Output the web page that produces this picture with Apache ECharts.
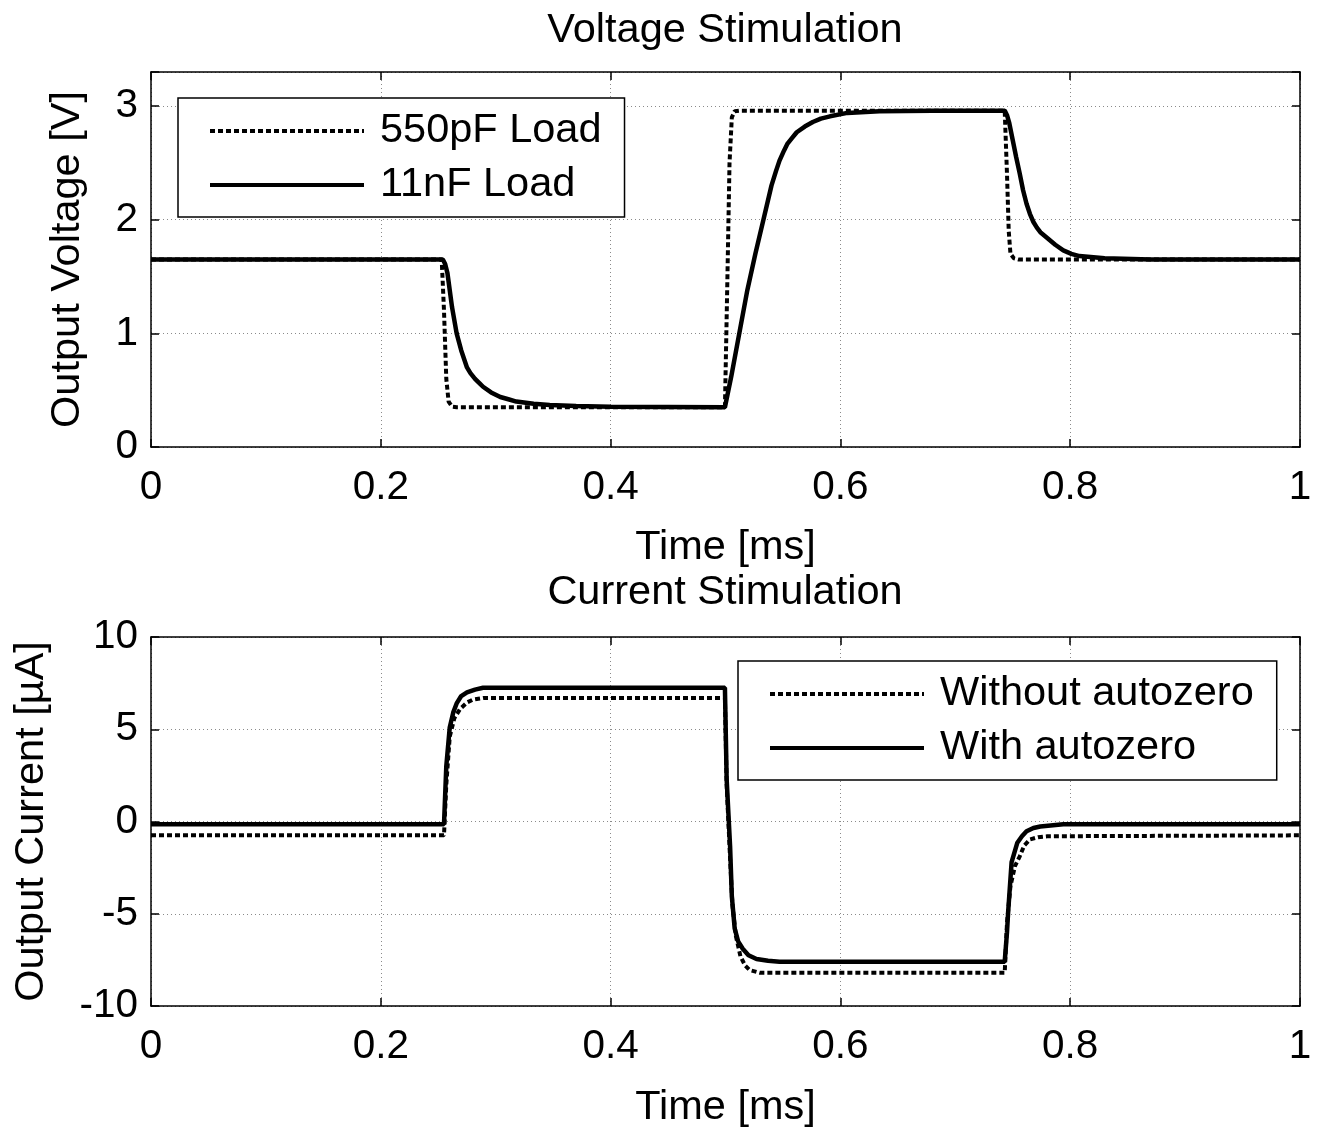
<!DOCTYPE html>
<html>
<head>
<meta charset="utf-8">
<script src="https://cdn.jsdelivr.net/npm/echarts@6/dist/echarts.min.js"></script>
<style>
html,body{margin:0;padding:0;background:#fff;}
#chart{width:1323px;height:1133px;}
</style>
</head>
<body>
<div id="chart"></div>
<script>
// ---- Data ----
const xTicks = [0, 0.2, 0.4, 0.6, 0.8, 1];
const vTicks = [0, 1, 2, 3];
const iTicks = [-10, -5, 0, 5, 10];

const v550pF = [[0,1.65],[0.253,1.65],[0.255,1.2],[0.257,0.6],[0.259,0.4],[0.262,0.355],[0.266,0.35],[0.4995,0.35],[0.5015,1.4],[0.5035,2.5],[0.5055,2.9],[0.508,2.955],[0.512,2.96],[0.743,2.96],[0.745,2.4],[0.7465,1.9],[0.748,1.7],[0.751,1.66],[0.755,1.65],[1,1.65]];
const v11nF = [[0,1.65],[0.254,1.65],[0.256,1.61],[0.258,1.53],[0.262,1.23],[0.266,1.0],[0.270,0.85],[0.275,0.70],[0.278,0.65],[0.282,0.60],[0.286,0.56],[0.289,0.53],[0.296,0.48],[0.304,0.44],[0.311,0.42],[0.318,0.40],[0.333,0.38],[0.347,0.37],[0.37,0.36],[0.40,0.355],[0.4995,0.35],[0.505,0.62],[0.512,1.0],[0.519,1.38],[0.526,1.70],[0.533,2.0],[0.540,2.30],[0.544,2.43],[0.547,2.52],[0.551,2.61],[0.554,2.67],[0.558,2.72],[0.562,2.77],[0.569,2.82],[0.576,2.86],[0.583,2.89],[0.591,2.91],[0.606,2.94],[0.634,2.955],[0.68,2.96],[0.743,2.96],[0.745,2.92],[0.747,2.85],[0.750,2.70],[0.753,2.55],[0.756,2.41],[0.759,2.26],[0.762,2.14],[0.765,2.05],[0.768,1.98],[0.771,1.93],[0.774,1.89],[0.780,1.84],[0.787,1.78],[0.794,1.73],[0.801,1.70],[0.808,1.68],[0.83,1.66],[0.87,1.65],[1,1.65]];

const iWithout = [[0,-0.75],[0.255,-0.75],[0.257,2.0],[0.260,4.6],[0.264,5.6],[0.269,6.1],[0.275,6.45],[0.280,6.6],[0.29,6.7],[0.4995,6.7],[0.501,2.0],[0.504,-2.0],[0.506,-4.5],[0.509,-6.2],[0.513,-7.3],[0.517,-7.8],[0.521,-8.05],[0.53,-8.2],[0.743,-8.2],[0.745,-5.5],[0.748,-3.5],[0.752,-2.4],[0.756,-1.9],[0.760,-1.3],[0.765,-0.97],[0.772,-0.85],[0.78,-0.8],[1,-0.75]];
const iWith = [[0,-0.15],[0.255,-0.15],[0.257,3.0],[0.260,5.1],[0.263,5.9],[0.266,6.4],[0.270,6.8],[0.275,7.0],[0.282,7.15],[0.289,7.25],[0.4995,7.25],[0.501,2.3],[0.504,-1.35],[0.5055,-4.05],[0.508,-5.8],[0.511,-6.5],[0.515,-6.9],[0.520,-7.25],[0.527,-7.45],[0.537,-7.55],[0.547,-7.6],[0.743,-7.6],[0.745,-6.0],[0.746,-4.9],[0.749,-2.2],[0.754,-1.15],[0.758,-0.8],[0.762,-0.53],[0.768,-0.35],[0.774,-0.27],[0.794,-0.15],[1,-0.15]];

// ---- Chart ----
const FONT = '"Liberation Sans", Arial, sans-serif';
const FS = 41.5;   // titles, names, legend
const FT = 40.5;   // tick labels
const chart = echarts.init(document.getElementById('chart'), null, {renderer: 'canvas'});

function fmtX(v){ return xTicks.some(t => Math.abs(t - v) < 1e-9) ? String(+v.toFixed(1)) : ''; }
function fmtV(v){ return vTicks.includes(v) ? String(v) : ''; }
function fmtI(v){ return iTicks.includes(v) ? String(v) : ''; }

const split = {show: true, lineStyle: {color: '#8a8a8a', width: 1, type: [1, 3]}};
const axLine = {show: true, onZero: false, lineStyle: {color: '#000', width: 1.5}};
const tickIn = {show: true, inside: true, length: 8, lineStyle: {color: '#000', width: 1.5}};
const txt = {fontFamily: FONT, fontSize: FS, color: '#000'};
const tickTxt = {fontFamily: FONT, fontSize: FT, color: '#000'};

function xMain(grid, name, gap){
  return {type:'value', gridIndex:grid, min:0, max:1, interval:0.2, position:'bottom',
    name:name, nameLocation:'middle', nameGap:gap, nameTextStyle:txt,
    axisLine:axLine, axisTick:tickIn, splitLine:split,
    axisLabel:Object.assign({margin:20, formatter:fmtX}, tickTxt)};
}
function xTop(grid){
  return {type:'value', gridIndex:grid, min:0, max:1, interval:0.2, position:'top',
    axisLine:axLine, axisTick:tickIn, splitLine:{show:false}, axisLabel:{show:false}};
}
function yMain(grid, min, max, interval, fmt, name, gap){
  return {type:'value', gridIndex:grid, min:min, max:max, interval:interval, position:'left',
    name:name, nameLocation:'middle', nameGap:gap, nameTextStyle:txt,
    axisLine:axLine, axisTick:tickIn, splitLine:split,
    axisLabel:Object.assign({margin:13, formatter:fmt}, tickTxt)};
}
function yRight(grid, min, max, interval){
  return {type:'value', gridIndex:grid, min:min, max:max, interval:interval, position:'right',
    axisLine:axLine, axisTick:tickIn, splitLine:{show:false}, axisLabel:{show:false}};
}

const dashStyle = {color:'#000', width:4, type:[5,3]};
const solidStyle = {color:'#000', width:4.5, type:'solid'};

function legendAt(names, left, top){
  return {data:names, orient:'vertical', left:left, top:top,
    itemWidth:154, itemHeight:20, itemGap:10, padding:[11,23,10,30],
    borderColor:'#000', borderWidth:1.5, backgroundColor:'#fff',
    itemStyle:{opacity:0}, lineStyle:{width:4},
    textStyle:{fontFamily:FONT, fontSize:FS, color:'#000', lineHeight:44, padding:[0,0,0,11]}};
}

function lineSeries(name, xi, yi, data, style, z){
  return {name:name, type:'line', xAxisIndex:xi, yAxisIndex:yi, data:data,
    symbol:'none', showSymbol:false, itemStyle:{color:'#000'}, lineStyle:style, z:z};
}

chart.setOption({
  animation:false,
  backgroundColor:'#fff',
  color:['#000','#000','#000','#000'],
  title:[
    {text:'Voltage Stimulation', left:725, top:10, textAlign:'center', padding:0,
     textStyle:{fontFamily:FONT, fontSize:FS, fontWeight:'normal', color:'#000'}},
    {text:'Current Stimulation', left:725, top:572, textAlign:'center', padding:0,
     textStyle:{fontFamily:FONT, fontSize:FS, fontWeight:'normal', color:'#000'}}
  ],
  grid:[
    {left:151, right:23, top:72, height:375},
    {left:151, right:23, top:637, height:369}
  ],
  xAxis:[ xMain(0,'Time [ms]',80), xTop(0), xMain(1,'Time [ms]',81), xTop(1) ],
  yAxis:[
    yMain(0,0,3.3,1,fmtV,'Output Voltage [V]',62), yRight(0,0,3.3,1),
    yMain(1,-10,10,5,fmtI,'Output Current [µA]',98), yRight(1,-10,10,5)
  ],
  legend:[
    legendAt(['550pF Load','11nF Load'], 178, 98),
    legendAt(['Without autozero','With autozero'], 738, 661)
  ],
  series:[
    lineSeries('550pF Load', 0, 0, v550pF, dashStyle, 3),
    lineSeries('11nF Load', 0, 0, v11nF, solidStyle, 4),
    lineSeries('Without autozero', 2, 2, iWithout, dashStyle, 3),
    lineSeries('With autozero', 2, 2, iWith, solidStyle, 4)
  ]
});
</script>
</body>
</html>
